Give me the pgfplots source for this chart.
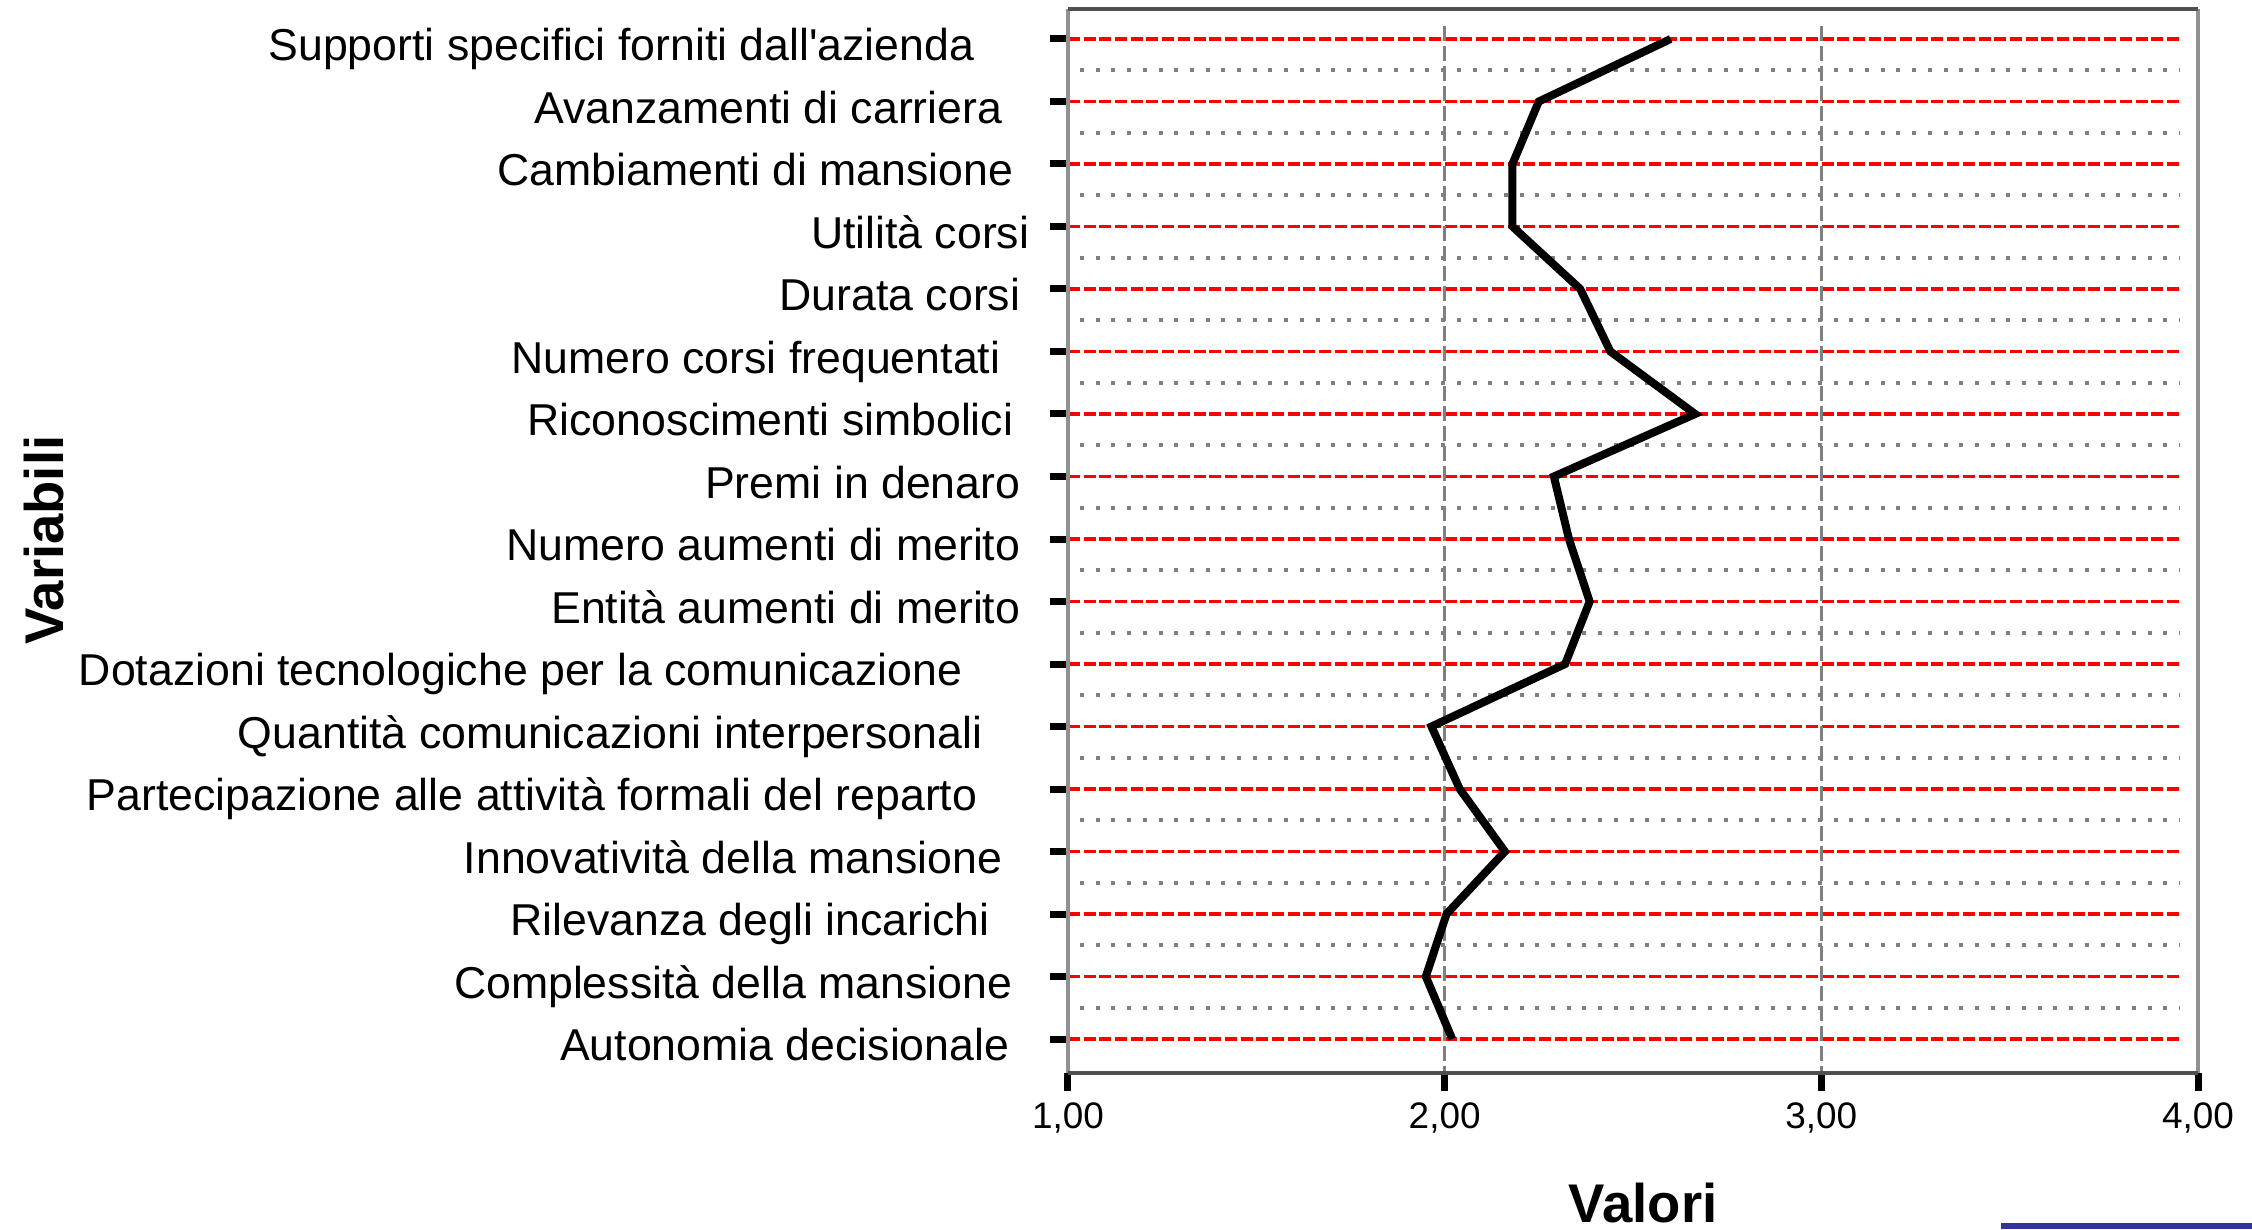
\documentclass[border=0pt]{standalone}
\usepackage{fontspec}
\setmainfont{Liberation Sans}
\usepackage{pgfplots}
\pgfplotsset{compat=1.18}
\definecolor{redline}{RGB}{255,0,0}
\definecolor{grayline}{RGB}{128,128,128}
\definecolor{framec}{RGB}{80,80,80}
\definecolor{borderc}{RGB}{145,145,145}
\definecolor{barblue}{RGB}{51,51,153}
\begin{document}
\begin{tikzpicture}
\path[use as bounding box] (-106.8mm,-15.6mm) rectangle (118.4mm,107.3mm);
\begin{axis}[
  at={(0,0)}, anchor=south west,
  scale only axis, width=113mm, height=106.37mm,
  xmin=1, xmax=4, ymin=-0.544, ymax=16.475,
  clip=false,
  axis line style={draw=none},
  xtick={1,2,3,4}, xticklabels={{1,00},{2,00},{3,00},{4,00}},
  ytick={0,...,16},
  yticklabels={
    {Autonomia decisionale\hspace*{2.0mm}},
    {Complessità della mansione\hspace*{1.7mm}},
    {Rilevanza degli incarichi\hspace*{4.0mm}},
    {Innovatività della mansione\hspace*{2.7mm}},
    {Partecipazione alle attività formali del reparto\hspace*{5.2mm}},
    {Quantità comunicazioni interpersonali\hspace*{4.7mm}},
    {Dotazioni tecnologiche per la comunicazione\hspace*{6.7mm}},
    {Entità aumenti di merito\hspace*{0.9mm}},
    {Numero aumenti di merito\hspace*{0.9mm}},
    {Premi in denaro\hspace*{0.9mm}},
    {Riconoscimenti simbolici\hspace*{1.6mm}},
    {Numero corsi frequentati\hspace*{2.9mm}},
    {Durata corsi\hspace*{0.9mm}},
    {Utilità corsi},
    {Cambiamenti di mansione\hspace*{1.6mm}},
    {Avanzamenti di carriera\hspace*{2.7mm}},
    {Supporti specifici forniti dall\textquotesingle azienda\hspace*{5.5mm}}
  },
  tick align=outside, xtick pos=left, ytick pos=left,
  major tick length=1.8mm,
  tick style={black, line width=0.7mm},
  /pgf/number format/assume math mode=true,
  yticklabel style={font=\fontsize{12.7}{15}\selectfont, anchor=east, inner sep=0pt,
    text height=9pt, text depth=0pt, xshift=-2.0mm, yshift=-0.6mm},
  xticklabel style={font=\fontsize{10.5}{12}\selectfont, anchor=center, inner sep=0pt,
    yshift=-2.7mm},
  xlabel={Valori},
  xlabel style={font=\bfseries\fontsize{15.5}{18}\selectfont,
    at={(axis description cs:0.509,-0.122)}, anchor=center},
  ylabel={Variabili},
  ylabel style={font=\bfseries\fontsize{15.5}{18}\selectfont,
    at={(axis description cs:-0.906,0.501)}, anchor=center},
]
% horizontal category lines (red dashed) and midlines (grey dotted)
\pgfplotsinvokeforeach{0,...,16}{
  \draw[redline, line width=0.33mm, dash pattern=on 1.2mm off 0.37mm]
    (axis cs:1,#1) -- (axis cs:3.952,#1);
}
\pgfplotsinvokeforeach{0.5,1.5,...,15.5}{
  \draw[grayline, line width=0.4mm, dash pattern=on 0.4mm off 1.17mm]
    (axis cs:1.032,#1) -- (axis cs:3.952,#1);
}
% vertical dashed gridlines
\draw[grayline, line width=0.27mm, dash pattern=on 1.5mm off 0.5mm]
  (axis cs:2,16.2) -- (axis cs:2,-0.544);
\draw[grayline, line width=0.27mm, dash pattern=on 1.5mm off 0.5mm]
  (axis cs:3,16.2) -- (axis cs:3,-0.544);
% frame
\draw[borderc, line width=0.35mm] (rel axis cs:0,0) -- (rel axis cs:0,1);
\draw[borderc, line width=0.35mm] (rel axis cs:1,0) -- (rel axis cs:1,1);
\draw[framec, line width=0.4mm] (rel axis cs:0,1) -- (rel axis cs:1,1);
\draw[framec, line width=0.4mm] (rel axis cs:0,0) -- (rel axis cs:1,0);
% data
\addplot[black, line width=0.8mm, line join=miter, mark=none] coordinates {
  (2.60,16) (2.25,15) (2.18,14) (2.18,13) (2.36,12) (2.44,11) (2.665,10)
  (2.29,9) (2.33,8) (2.385,7) (2.32,6) (1.965,5) (2.04,4) (2.16,3)
  (2.005,2) (1.95,1) (2.02,0)
};
\end{axis}
\fill[barblue] (93.3mm,-15.6mm) rectangle (118.4mm,-14.97mm);
\end{tikzpicture}
\end{document}
